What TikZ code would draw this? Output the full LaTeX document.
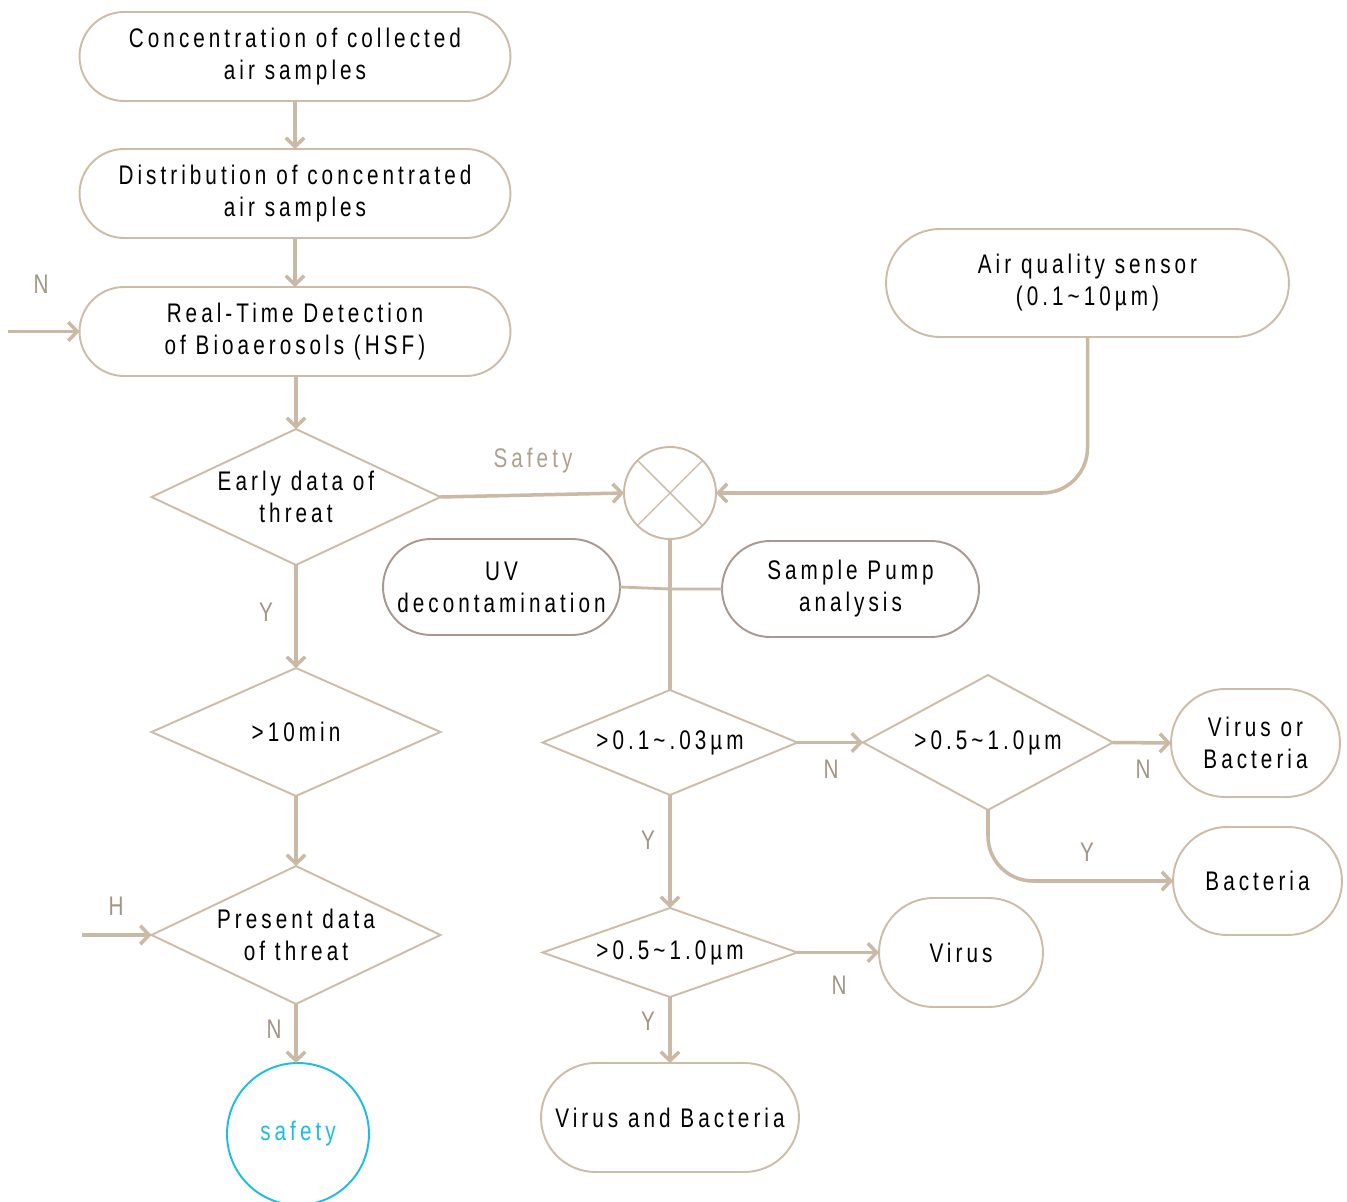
\documentclass[tikz,border=0pt]{standalone}
\usepackage{fontspec}
\setmainfont{Liberation Sans}[FakeStretch=0.77,LetterSpace=15]
\usetikzlibrary{shapes.geometric,arrows.meta}
\definecolor{ln}{HTML}{C9B9A5}
\definecolor{bx}{HTML}{CCBCA8}
\definecolor{bxd}{HTML}{A89890}
\definecolor{lab}{HTML}{A39585}
\definecolor{cy}{HTML}{1CBDE0}
\newcommand\dfont{\fontsize{15.3}{18.2}\selectfont}
\begin{document}
\begin{tikzpicture}[x=0.02cm,y=-0.02cm,
  rbox/.style={draw=bx, line width=1.1pt, align=center, inner sep=0pt, outer sep=0pt, font=\dfont, text=black},
  dbox/.style={rbox, draw=bxd},
  dia/.style={diamond, draw=bx, line width=1.1pt, inner sep=0pt, outer sep=0pt},
  txt/.style={align=center, font=\dfont, text=black, inner sep=0pt},
  lbl/.style={font=\dfont, text=lab, inner sep=0pt},
  arr/.style={draw=ln, line width=2pt, -{Straight Barb[length=5pt,width=10.5pt]}},
  conn/.style={draw=ln, line width=2pt}
]
\useasboundingbox[fill=white] (0,0) rectangle (1347,1202);

% left column boxes
\node[rbox, minimum width=8.62cm, minimum height=1.78cm, rounded corners=0.89cm] (b1) at (295,56.5) {Concentration of collected\\air samples};
\node[rbox, minimum width=8.62cm, minimum height=1.78cm, rounded corners=0.89cm] (b2) at (295,193.5) {Distribution of concentrated\\air samples};
\node[rbox, minimum width=8.62cm, minimum height=1.78cm, rounded corners=0.89cm] (b3) at (295,331.5) {Real-Time Detection\\of Bioaerosols (HSF)};

% left diamonds
\node[dia, minimum width=5.78cm, minimum height=2.72cm] (d1) at (296,497) {};
\node[txt] at (d1) {Early data of\\threat};
\node[dia, minimum width=5.78cm, minimum height=2.56cm] (d2) at (296,732) {};
\node[txt] at (d2) {>10min};
\node[dia, minimum width=5.78cm, minimum height=2.76cm] (d3) at (296,935) {};
\node[txt] at (d3) {Present data\\of threat};

\node[circle, draw=cy, line width=1.1pt, minimum size=2.84cm, inner sep=0pt, outer sep=0pt, font=\dfont, text=cy] (safe) at (298,1134) {safety};

% mixer circle
\node[circle, draw=ln, line width=1.1pt, minimum size=1.84cm, inner sep=0pt, outer sep=0pt] (xc) at (670,493) {};
\draw[draw=ln, line width=0.8pt] (xc.45) -- (xc.225) (xc.135) -- (xc.315);

% right boxes
\node[rbox, minimum width=8.06cm, minimum height=2.16cm, rounded corners=1.08cm] (air) at (1087.5,283) {Air quality sensor\\(0.1\textasciitilde10µm)};
\node[dbox, minimum width=4.74cm, minimum height=1.92cm, rounded corners=0.96cm] (uv) at (501.5,587) {UV\\decontamination};
\node[dbox, minimum width=5.14cm, minimum height=1.92cm, rounded corners=0.96cm] (sp) at (850.5,589) {Sample Pump\\analysis};

\node[dia, minimum width=5.10cm, minimum height=2.10cm] (d4) at (670,742.5) {};
\node[txt] at (d4) {>0.1\textasciitilde.03µm};
\node[dia, minimum width=5.00cm, minimum height=2.70cm] (d5) at (988,742.5) {};
\node[txt] at (d5) {>0.5\textasciitilde1.0µm};
\node[dia, minimum width=5.10cm, minimum height=1.78cm] (d6) at (670,952.5) {};
\node[txt] at (d6) {>0.5\textasciitilde1.0µm};

\node[rbox, minimum width=3.38cm, minimum height=2.16cm, rounded corners=1.08cm] (vob) at (1255.5,743) {Virus or\\Bacteria};
\node[rbox, minimum width=3.38cm, minimum height=2.16cm, rounded corners=1.08cm] (bac) at (1257.5,881) {Bacteria};
\node[rbox, minimum width=3.28cm, minimum height=2.18cm, rounded corners=1.09cm] (vir) at (961,952.5) {Virus};
\node[rbox, minimum width=5.16cm, minimum height=2.18cm, rounded corners=1.09cm] (vb) at (670,1117.5) {Virus and Bacteria};

% connectors left column
\draw[arr] (b1.south) -- (b2.north);
\draw[arr] (b2.south) -- (b3.north);
\draw[arr] (b3.south -| d1.north) -- (d1.north);
\draw[arr] (d1.south) -- (d2.north);
\draw[arr] (d2.south) -- (d3.north);
\draw[arr] (d3.south) -- (d3.south |- safe.north);
\coordinate (nin) at (8,331.5);
\draw[arr] (nin) -- (b3.west);
\coordinate (hin) at (82,935);
\draw[arr] (hin) -- (d3.west);

\node[lbl] at (41,284) {N};
\node[lbl] at (266,612) {Y};
\node[lbl] at (116,906) {H};
\node[lbl] at (274,1029) {N};

% safety path
\draw[arr] (d1.east) -- (xc.west);
\node[font=\dfont, text=bx!85!black, inner sep=0pt] at (533,461) {Safety};

% sensor path
\draw[arr, rounded corners=0.9cm] (air.south) |- (xc.east);

% mixer down
\draw[conn] (xc.south) -- (d4.north);
\coordinate (jn) at (670,589);
\draw[conn, line width=1.6pt] (uv.east) -- (jn) -- (sp.west);

% right decisions
\draw[arr] (d4.east) -- (d5.west);
\node[lbl] at (831,769) {N};
\draw[arr] (d5.east) -- (vob.west);
\node[lbl] at (1143,769) {N};
\draw[arr, rounded corners=0.9cm] (d5.south) |- (bac.west);
\node[lbl] at (1087,852) {Y};
\draw[arr] (d4.south) -- (d6.north);
\node[lbl] at (648,840) {Y};
\draw[arr] (d6.east) -- (vir.west);
\node[lbl] at (839,985) {N};
\draw[arr] (d6.south) -- (vb.north);
\node[lbl] at (648,1021) {Y};
\end{tikzpicture}
\end{document}
